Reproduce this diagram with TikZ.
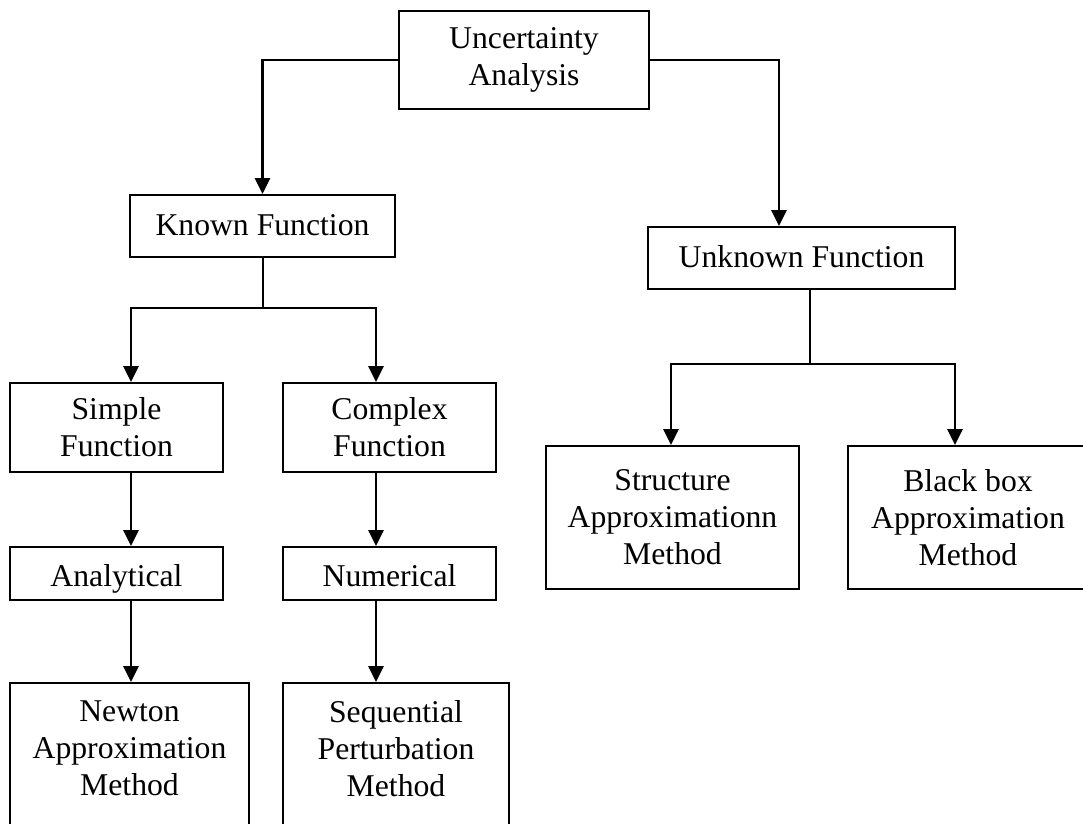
\documentclass[tikz,border=0pt]{standalone}
\usepackage{fontspec}
\setmainfont{Liberation Serif}
\usetikzlibrary{positioning, arrows.meta}

\begin{document}
\begin{tikzpicture}[
                  x=1pt, y=-1pt,
                  every node/.style={draw, line width=1.8pt, inner sep=0pt, align=center,
                              font=\fontsize{31.7pt}{37pt}\selectfont},
                  root/.style={minimum width=250pt, minimum height=98pt},
                  kind/.style={minimum height=62pt, text height=24pt, text depth=6pt},
                  form/.style={minimum width=213pt, minimum height=89pt},
                  solver/.style={minimum width=213pt, minimum height=53pt,
                              text height=26pt, text depth=0pt},
                  method/.style={anchor=north, inner ysep=18pt},
                  family/.style={minimum height=143pt},
                  arrow/.style={draw, line width=2.8pt, -{Triangle[length=16pt, width=15pt]}},
                  link/.style={draw, line width=2pt},
            ]
            \useasboundingbox (0,0) rectangle (1083,823);
            \clip (0,0) rectangle (1083,823);

            % top of the tree
            \node[root] (ua) at (524,60) {Uncertainty\\Analysis};
            \node[kind, minimum width=265pt] (kf) at (262.5,226) {Known Function};
            \node[kind, minimum width=307pt] (uf) at (801.5,258) {Unknown Function};

            % known function branch
            \node[form] (simple) at (116.5,427.5) {Simple\\Function};
            \node[form] (complex) at (389.5,427.5) {Complex\\Function};
            \node[solver] (analytical) at (116.5,573.5) {Analytical};
            \node[solver] (numerical) at (389.5,573.5) {Numerical};
            \node[method] (newton) at (129.5,682)
                  {\parbox[t][150pt][t]{239pt}{\centering Newton\\Approximation\\Method}};
            \node[method] (sequential) at (396,682)
                  {\parbox[t][150pt][t]{226pt}{\centering Sequential\\Perturbation\\Method}};

            % unknown function branch
            \node[family, minimum width=253pt] (structure) at (672.5,517.5)
                  {Structure\\Approximationn\\Method};
            \node[family, minimum width=240pt] (blackbox) at (968,517.5)
                  {Black box\\Approximation\\Method};

            \draw[arrow] (ua.west) -| (kf.north);
            \draw[arrow] (ua.east) -| ([xshift=-22.5pt]uf.north);

            \draw[link] (kf.south) -- ++(0,50) coordinate (kfjoint);
            \draw[arrow] (kfjoint) -| ([xshift=14.5pt]simple.north);
            \draw[arrow] (kfjoint) -| ([xshift=-13.5pt]complex.north);
            \draw[arrow] ([xshift=14.5pt]simple.south) -- ([xshift=14.5pt]analytical.north);
            \draw[arrow] ([xshift=-13.5pt]complex.south) -- ([xshift=-13.5pt]numerical.north);
            \draw[arrow] ([xshift=14.5pt]analytical.south) -- ([xshift=1.5pt]newton.north);
            \draw[arrow] ([xshift=-13.5pt]numerical.south) -- ([xshift=-20pt]sequential.north);

            \draw[link] ([xshift=8.5pt]uf.south) -- ++(0,74) coordinate (ufjoint);
            \draw[arrow] (ufjoint) -| ([xshift=-1.5pt]structure.north);
            \draw[arrow] (ufjoint) -| ([xshift=-13pt]blackbox.north);
      \end{tikzpicture}
\end{document}
